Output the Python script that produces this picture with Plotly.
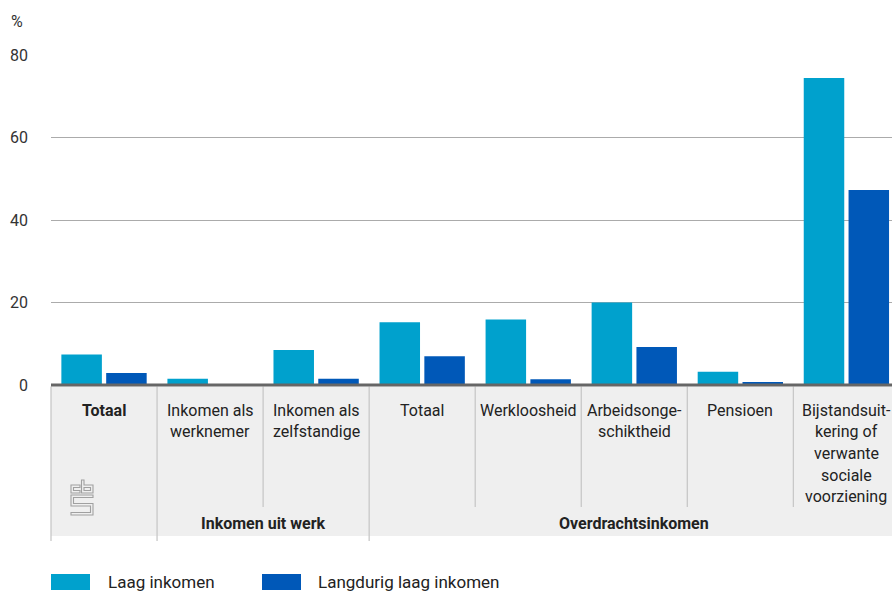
import plotly.graph_objects as go

# data
label_lines = [
    ["Totaal"],
    ["Inkomen als", "werknemer"],
    ["Inkomen als", "zelfstandige"],
    ["Totaal"],
    ["Werkloosheid"],
    ["Arbeidsonge-", "schiktheid"],
    ["Pensioen"],
    ["Bijstandsuit-", "kering of", "verwante", "sociale", "voorziening"],
]
groups = ["Inkomen uit werk", "Overdrachtsinkomen"]
group_spans = [(1, 2), (3, 7)]
laag = [7.4, 1.5, 8.5, 15.2, 15.9, 20.0, 3.2, 74.4]
langdurig = [2.9, 0.2, 1.5, 7.0, 1.4, 9.2, 0.7, 47.3]
series_names = ["Laag inkomen", "Langdurig laag inkomen"]
colors = ["#00a1cd", "#0058b8"]
yticks = [0, 20, 40, 60, 80]

W, H = 892, 592
PL, PT, PB = 51, 55, 385          # plot area in window pixels
L, R, T, B = PL, 0, PT, H - PB
X0, X1 = -0.5, 7.43
FONT = "Roboto"


def pp(px, py):
    # window pixel position -> paper coords
    return (px - PL) / (W - L - R), (PB - py) / (PB - PT)


def cx(i):
    # category coordinate -> paper x
    return (i - X0) / (X1 - X0)


xs = list(range(len(laag)))
fig = go.Figure()
for name, vals, col in zip(series_names, [laag, langdurig], colors):
    fig.add_trace(go.Bar(x=xs, y=vals, name=name, marker_color=col,
                         marker_line_width=0, showlegend=False, hoverinfo="skip"))

shapes = []
annotations = []

# grey table under the axis
_, ty0 = pp(0, 386.5)
_, ty1 = pp(0, 536)
shapes.append(dict(type="rect", xref="paper", yref="paper", x0=0, x1=1,
                   y0=ty0, y1=ty1, fillcolor="#efefef", line_width=0, layer="below"))
for k in range(len(xs)):
    bottom = 541 if k in (0, 1, 3) else 507
    shapes.append(dict(type="line", xref="paper", yref="paper",
                       x0=cx(k - 0.5), x1=cx(k - 0.5), y0=ty0, y1=pp(0, bottom)[1],
                       line=dict(color="#c8c8c8", width=1.3)))

# baseline
shapes.append(dict(type="line", xref="paper", yref="paper", x0=0, x1=1, y0=0, y1=0,
                   line=dict(color="#666666", width=3), layer="above"))

# category labels
for i, lines in enumerate(label_lines):
    for j, txt in enumerate(lines):
        t = "<b>%s</b>" % txt if i == 0 else txt
        annotations.append(dict(x=i, xref="x", y=pp(0, 410 + 21.7 * j)[1], yref="paper",
                                text=t, showarrow=False, xanchor="center", yanchor="middle",
                                font=dict(family=FONT, size=16, color="#222222")))
for g, (a, b) in zip(groups, group_spans):
    annotations.append(dict(x=(a + b) / 2, xref="x", y=pp(0, 523)[1], yref="paper",
                            text="<b>%s</b>" % g, showarrow=False, xanchor="center",
                            yanchor="middle", font=dict(family=FONT, size=16, color="#222222")))

# unit label
px_, py_ = pp(17, 22)
annotations.append(dict(x=px_, y=py_, xref="paper", yref="paper", text="%", showarrow=False,
                        xanchor="center", yanchor="middle",
                        font=dict(family=FONT, size=16, color="#333333")))

# legend
for name, col, sx, tx in zip(series_names, colors, [51, 262], [106, 316]):
    a0, b0 = pp(sx, 574)
    a1, b1 = pp(sx + 39, 590)
    shapes.append(dict(type="rect", xref="paper", yref="paper", x0=a0, x1=a1, y0=b1, y1=b0,
                       fillcolor=col, line_width=0))
    lx, ly = pp(tx, 582)
    annotations.append(dict(x=lx, y=ly, xref="paper", yref="paper", text=name, showarrow=False,
                            xanchor="left", yanchor="middle",
                            font=dict(family=FONT, size=17, color="#222222")))

# cbs logo (rough outline)
logo = [
    [(71, 485), (80, 485), (80, 487.5), (73.5, 487.5), (73.5, 490.5), (80, 490.5), (80, 493), (71, 493)],
    [(81.5, 480), (84, 480), (84, 485), (93, 485), (93, 493), (81.5, 493)],
    [(84, 487.5), (90.5, 487.5), (90.5, 490.5), (84, 490.5)],
    [(71, 495), (93, 495), (93, 497.5), (73.5, 497.5), (73.5, 503.5), (93, 503.5), (93, 515),
     (71, 515), (71, 512.5), (90.5, 512.5), (90.5, 506), (71, 506)],
]
for poly in logo:
    pts = [pp(x, y) for x, y in poly]
    path = "M" + " L".join("%.5f,%.5f" % p for p in pts) + " Z"
    shapes.append(dict(type="path", xref="paper", yref="paper", path=path,
                       line=dict(color="#a0a0a0", width=1.1)))

fig.update_layout(
    width=W, height=H,
    margin=dict(l=L, r=R, t=T, b=B, autoexpand=False),
    paper_bgcolor="white", plot_bgcolor="white",
    barmode="group", bargap=0.155, bargroupgap=0.096,
    shapes=shapes, annotations=annotations,
    font=dict(family=FONT, size=16, color="#333333"),
    xaxis=dict(range=[X0, X1], showticklabels=False, showgrid=False, zeroline=False,
               showline=False, fixedrange=True),
    yaxis=dict(range=[0, 80], tickvals=yticks, showgrid=True, gridcolor="#ababab",
               gridwidth=1.3, zeroline=False, showline=False, ticks="", fixedrange=True,
               ticklabelstandoff=22, tickfont=dict(family=FONT, size=16, color="#333333")),
)

# drop the default body margin so the figure sits at the window's corner
fig.write_html("out.html", config={"displayModeBar": False},
               post_script="document.body.style.margin='0';document.body.style.overflow='hidden';")
